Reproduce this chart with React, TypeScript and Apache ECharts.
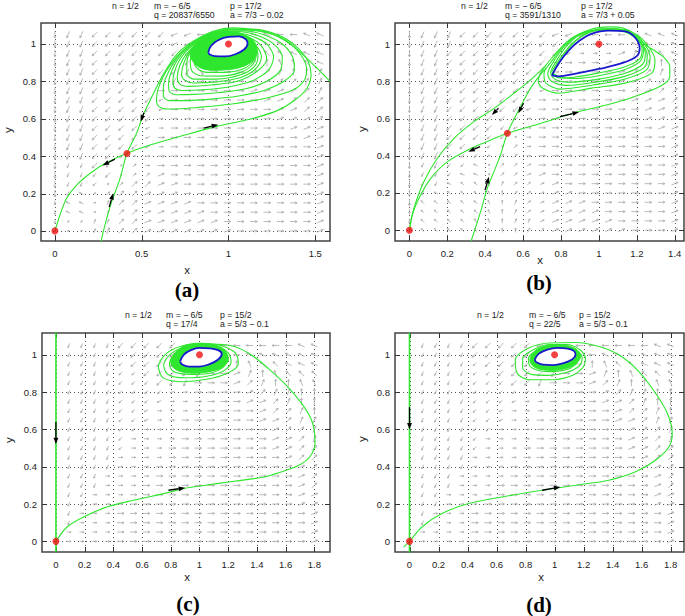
import React, { useEffect, useRef } from "react";
import * as echarts from "echarts";

// ---------------- tick values ----------------
const xTicksA = [0, 0.5, 1, 1.5];
const xTicksB = [0, 0.2, 0.4, 0.6, 0.8, 1, 1.2, 1.4];
const xTicksC = [0, 0.2, 0.4, 0.6, 0.8, 1, 1.2, 1.4, 1.6, 1.8];
const xTicksD = [0, 0.2, 0.4, 0.6, 0.8, 1, 1.2, 1.4, 1.6, 1.8];
const yTicks = [0, 0.2, 0.4, 0.6, 0.8, 1];

// ---------------- direction field (read per row, top row y=1.05 down to y=0) ----------------
// letter = direction (E right, N up, W left, S down, ...), lowercase = short arrow, '.' = tiny
const fieldRowsA = [
  "SAAZZZZZZBBWWWWCCWWCC",
  "SAAZZZZZZBBw.wWCCCCCW",
  "SAAZZZZZZZZbeeNYQQCCC",
  "SAAZZZZZZZZZEEFTNYYQC",
  "SAAZZZZZZZAXEEEFRTNNT",
  "SAAZZZZZZAGEEEEFFRRTT",
  "SAAZZZZZEEEEEEEFFFRRT",
  "SAAZZZZZbEEEEEEEFFRRR",
  "SAAZZZZZbEEEEEEEEFFRR",
  "SAAZZZZZeEEEEEEEEFFFR",
  "SAAZZZZbeEEEEEEEEEFFF",
  "SAAZZZZbEEEEEEEEEEEFF",
  "SAAZZZZbeEEEEEEEEEEEF",
  "SAAZZz.eEEEEEEEEEEEEF",
  "SaaZz.reEEEEEEEEEEEEF",
  "SaazZ.rrFEEEEEEEEEEEF",
  "Saaz.rRRFFEEEEEEEEEEF",
  "Sac.rRRFFFEEEEEEEEEEF",
  "scc.tRRFFFFEEEEEEEEEF",
  "scc.tRRFFFFFEEEEEEEEF",
  "s..ttRRFFFFFFEEEEEEEF",
  "...tTRRFFFFFFFEEEEEEF",
];
const fieldRowsB = [
  "SAAAZZZZZZZBBBWWWWCCC",
  "SAAAZZZZZZZZBbwwwCCCC",
  "SAAZZZZZZZZZbeeeFTTQC",
  "SAAZZZZZZZZeEEEFFRTNY",
  "SAAZZZZZZZZEEEEFFRRTN",
  "SAAZZZZZZZbEEEEEFFRRT",
  "SAAZZZZZZZbEEEEEEFFRR",
  "SAAZZZZZZbEEEEEEEFFFR",
  "SAAZZZZZZbEEEEEEEEFFR",
  "SAAZZZZZbeEEEEEEEEFFF",
  "SAAZZZZzbeEEEEEEEEEFF",
  "SAAZZZzz.eEEEEEEEEEEF",
  "SAAZZzz.reEEEEEEEEEEF",
  "SAAzzz.rreEEEEEEEEEEF",
  "SaAzzc.rrfEEEEEEEEEEF",
  "Saazcc.rrfFEEEEEEEEEF",
  "SaacqqytrrfFEEEEEEEEF",
  "SacqqqynrrfFFEEEEEEEF",
  "SqqqqqyntrfFFFEEEEEEF",
  "sqqqqqyntrfFFFFEEEEEF",
  "sqqqqyynttfFFFFFEEEEF",
  ".qqqqyynntrFFFFFFEEEF",
];
const fieldRowsC = [
  "SaaaaZZZZZBBWWWWWWWCC",
  "SaaaaZZZZZZ.wWWCCCCCC",
  "SaaaazZZZZZbeeNYQQCCC",
  "SaaaazzZZZZAEEFTNYQQQ",
  "SaaaazzzZZAEEEFRTNNYY",
  "SaaaazzzzbeEEEEFRTTNN",
  "SaaaazzzbeeEEEEFFRTNN",
  "SaaaazzbeeeEEEEEFRRTN",
  "SaaaazzbeeEEEEEEFFRTT",
  "SaaaazzeeeEEEEEEEFRRT",
  "SaaaazeeeeEEEEEEEFFRT",
  "SaaaazeeeEEEEEEEEFFRR",
  "SaaaaeeeeEEEEEEEEEFRR",
  "SaaaaeeeEEEEEEEEEEFFR",
  "SaaaeeeeEEEEEEEEEEEFR",
  "SaaaeeeEEEEEEEEEEEEFR",
  "SaaeeeEEEEEEEEEEEEEFF",
  "SaaeeeEEEEEEEEEEEEEFF",
  "SaeeeEEEEEEEEEEEEEEEF",
  "SaeeeEEEEEEEEEEEEEEEF",
  "seeeeEEEEEEEEEEEEEEEF",
  ".eeeeEEEEEEEEEEEEEEEF",
];
const fieldRowsD = [
  "SaaaaZZZZZBBWWWWWWWCC",
  "SaaaaZZZZZZ.wWWCCCCCC",
  "SaaaazZZZZZbeeNYQQCCC",
  "SaaaazzZZZZAEEFTNYQQQ",
  "SaaaazzzZZAEEEFRTNNYY",
  "SaaaazzzzbeEEEEFRTTNN",
  "SaaaazzzbeeEEEEFFRTNN",
  "SaaaazzbeeeEEEEEFRRTN",
  "SaaaazzbeeEEEEEEFFRTT",
  "SaaaazzeeeEEEEEEEFRRT",
  "SaaaazeeeeEEEEEEEFFRT",
  "SaaaazeeeEEEEEEEEFFRR",
  "SaaaaeeeeEEEEEEEEEFRR",
  "SaaaaeeeEEEEEEEEEEFFR",
  "SaaaeeeeEEEEEEEEEEEFR",
  "SaaaeeeEEEEEEEEEEEEFR",
  "SaaeeeEEEEEEEEEEEEEFF",
  "SaaeeeEEEEEEEEEEEEEFF",
  "SaeeeEEEEEEEEEEEEEEEF",
  "SaeeeEEEEEEEEEEEEEEEF",
  "seeeeEEEEEEEEEEEEEEEF",
  ".eeeeEEEEEEEEEEEEEEEF",
];
const fieldStepA = 0.0764;
const fieldStepB = 0.07;
const fieldStepC = 0.09;
const fieldStepD = 0.09;

// ---------------- panel (a) ----------------
const eqA = [[0, 0], [1, 1], [0.415, 0.414]];
const stableA = [[1.585, 0.8], [1.489, 0.889], [1.373, 0.987], [1.258, 1.05], [1.143, 1.077], [1.028, 1.086], [0.912, 1.068], [0.797, 1.014], [0.701, 0.943], [0.62, 0.83], [0.56, 0.72], [0.509, 0.621], [0.471, 0.523], [0.415, 0.414], [0.375, 0.28], [0.327, 0.155], [0.288, 0.03], [0.265, -0.06]];
const unstA = [[0, 0], [0.029, 0.084], [0.067, 0.173], [0.125, 0.245], [0.202, 0.307], [0.288, 0.36], [0.413, 0.414], [0.548, 0.459], [0.749, 0.513], [0.932, 0.559], [1.134, 0.6], [1.287, 0.646], [1.383, 0.7], [1.451, 0.762], [1.476, 0.834], [1.46, 0.905], [1.402, 0.976], [1.326, 1.03], [1.229, 1.066], [1.12, 1.08], [1.02, 1.08], [0.91, 1.062], [0.8, 1.008], [0.71, 0.94], [0.635, 0.845], [0.595, 0.76], [0.585, 0.7], [0.6, 0.665], [0.65, 0.652], [0.75, 0.655], [0.88, 0.665], [1.03, 0.68], [1.22, 0.711], [1.374, 0.755], [1.44, 0.81], [1.45, 0.87], [1.41, 0.95], [1.33, 1.02], [1.22, 1.06], [1.1, 1.075], [1.0, 1.076]];
const loopA2 = [[1.0, 1.076], [0.9, 1.06], [0.8, 1.01], [0.72, 0.945], [0.66, 0.86], [0.625, 0.77], [0.625, 0.72], [0.66, 0.697], [0.75, 0.697], [0.9, 0.705], [1.05, 0.72], [1.2, 0.75], [1.32, 0.8], [1.38, 0.86], [1.37, 0.93], [1.31, 1.0], [1.2, 1.05], [1.1, 1.07], [1.0, 1.072]];
const loopA3 = [[1.0, 1.072], [0.9, 1.057], [0.81, 1.01], [0.73, 0.945], [0.68, 0.87], [0.655, 0.79], [0.66, 0.745], [0.7, 0.728], [0.8, 0.73], [0.95, 0.74], [1.1, 0.76], [1.22, 0.8], [1.3, 0.86], [1.31, 0.93], [1.26, 1.0], [1.17, 1.045], [1.08, 1.065], [1.0, 1.068]];
const loopA4 = [[1.0, 1.068], [0.9, 1.053], [0.82, 1.01], [0.745, 0.95], [0.7, 0.88], [0.68, 0.8], [0.69, 0.765], [0.73, 0.751], [0.85, 0.755], [1.0, 0.77], [1.13, 0.8], [1.23, 0.86], [1.26, 0.93], [1.22, 1.0], [1.14, 1.04], [1.06, 1.06], [1.0, 1.065]];
const loopA5 = [[1.0, 1.065], [0.9, 1.05], [0.83, 1.01], [0.76, 0.95], [0.72, 0.885], [0.705, 0.82], [0.72, 0.785], [0.77, 0.773], [0.9, 0.78], [1.05, 0.8], [1.16, 0.85], [1.22, 0.92], [1.19, 0.99], [1.12, 1.035], [1.05, 1.055], [1.0, 1.06]];
const loopA6 = [[1.0, 1.06], [0.9, 1.047], [0.84, 1.01], [0.775, 0.955], [0.74, 0.89], [0.73, 0.835], [0.75, 0.805], [0.8, 0.791], [0.93, 0.797], [1.07, 0.82], [1.16, 0.87], [1.19, 0.93], [1.16, 0.99], [1.1, 1.03], [1.04, 1.05], [1.0, 1.055]];
const loopA7 = [[0.79, 0.98], [0.76, 0.9], [0.76, 0.84], [0.8, 0.812], [0.93, 0.812], [1.07, 0.835], [1.15, 0.88], [1.17, 0.94], [1.14, 1.0], [1.08, 1.04]];
const loopA8 = [[0.8, 0.975], [0.78, 0.91], [0.79, 0.855], [0.84, 0.83], [0.95, 0.828], [1.07, 0.848], [1.14, 0.89], [1.16, 0.945], [1.14, 1.0], [1.09, 1.035], [1.0, 1.058]];
const loopA9 = [[0.82, 0.975], [0.8, 0.915], [0.82, 0.87], [0.88, 0.848], [0.98, 0.848], [1.08, 0.865], [1.14, 0.905], [1.15, 0.955], [1.13, 1.0], [1.07, 1.04], [0.98, 1.058], [0.9, 1.045], [0.84, 1.01]];
const denseA = [[0.78, 0.96], [0.8, 0.9], [0.86, 0.865], [0.96, 0.86], [1.07, 0.875], [1.14, 0.91], [1.165, 0.96], [1.15, 1.01], [1.1, 1.045], [1.02, 1.065], [0.93, 1.06], [0.85, 1.03]];
const cycleA = [[0.884, 0.955], [0.9, 0.99], [0.94, 1.02], [1.0, 1.038], [1.06, 1.04], [1.1, 1.025], [1.11, 1.0], [1.09, 0.97], [1.04, 0.945], [0.98, 0.933], [0.92, 0.935], [0.89, 0.945], [0.884, 0.955]];
const arrowsA = [[0.513, 0.632, 0.494, 0.585], [0.859, 0.55, 0.941, 0.568], [0.346, 0.384, 0.275, 0.35], [0.313, 0.127, 0.336, 0.202]];

// ---------------- panel (b) ----------------
const eqB = [[0, 0], [1, 1], [0.517, 0.521]];
const stableB = [[0.72, 0.87], [0.682, 0.824], [0.638, 0.761], [0.577, 0.645], [0.517, 0.521], [0.48, 0.402], [0.445, 0.312], [0.41, 0.222], [0.375, 0.097], [0.325, -0.06]];
const curve1B = [[0, 0], [0.023, 0.115], [0.075, 0.258], [0.146, 0.384], [0.234, 0.492], [0.339, 0.582], [0.445, 0.653], [0.55, 0.734], [0.638, 0.806], [0.69, 0.855], [0.72, 0.885]];
const unstB = [[0, 0], [0.014, 0.079], [0.049, 0.169], [0.111, 0.276], [0.198, 0.366], [0.322, 0.438], [0.427, 0.483], [0.517, 0.521], [0.686, 0.572], [0.876, 0.632], [1.034, 0.671], [1.163, 0.709], [1.321, 0.772], [1.374, 0.826], [1.374, 0.879], [1.338, 0.933], [1.286, 0.969], [1.233, 1.005], [1.198, 1.05], [1.127, 1.086], [1.057, 1.092], [0.951, 1.077], [0.846, 1.023], [0.758, 0.933], [0.7, 0.855], [0.68, 0.8], [0.7, 0.765], [0.786, 0.736], [0.962, 0.763], [1.138, 0.79], [1.279, 0.844], [1.296, 0.915], [1.261, 0.987], [1.2, 1.05], [1.1, 1.082], [1.0, 1.08]];
const loopB2 = [[1.0, 1.08], [0.9, 1.055], [0.82, 1.0], [0.76, 0.92], [0.71, 0.84], [0.72, 0.79], [0.8, 0.758], [0.97, 0.78], [1.13, 0.81], [1.25, 0.86], [1.27, 0.93], [1.24, 1.0], [1.17, 1.06], [1.08, 1.08], [1.0, 1.078]];
const loopB3 = [[1.0, 1.078], [0.9, 1.052], [0.82, 0.99], [0.76, 0.905], [0.73, 0.84], [0.75, 0.8], [0.83, 0.778], [0.98, 0.795], [1.13, 0.825], [1.24, 0.875], [1.255, 0.94], [1.22, 1.01], [1.15, 1.06], [1.07, 1.078], [1.0, 1.076]];
const loopB4 = [[1.0, 1.076], [0.9, 1.05], [0.83, 0.99], [0.77, 0.9], [0.745, 0.845], [0.77, 0.81], [0.85, 0.795], [0.99, 0.81], [1.13, 0.84], [1.23, 0.89], [1.245, 0.95], [1.21, 1.02], [1.14, 1.065], [1.06, 1.078], [1.0, 1.074]];
const loopB5 = [[0.75, 0.85], [0.8, 0.82], [0.88, 0.815], [1.0, 0.83], [1.13, 0.86], [1.22, 0.91], [1.235, 0.97], [1.2, 1.035], [1.13, 1.072], [1.05, 1.082], [0.95, 1.065], [0.86, 1.005], [0.79, 0.915], [0.75, 0.85]];
const loopB6 = [[0.755, 0.84], [0.79, 0.818], [0.87, 0.822], [1.0, 0.845], [1.13, 0.875], [1.215, 0.92], [1.228, 0.97], [1.2, 1.03], [1.14, 1.07], [1.05, 1.08], [0.95, 1.062], [0.86, 1.0], [0.8, 0.915], [0.755, 0.84]];
const cycleB = [[0.752, 0.832], [0.79, 0.9], [0.84, 0.965], [0.9, 1.02], [0.96, 1.055], [1.05, 1.072], [1.14, 1.068], [1.195, 1.03], [1.215, 0.975], [1.2, 0.935], [1.13, 0.9], [1.0, 0.866], [0.87, 0.84], [0.79, 0.826], [0.752, 0.832]];
const arrowsB = [[0.47, 0.655, 0.435, 0.619], [0.602, 0.682, 0.575, 0.628], [0.373, 0.449, 0.311, 0.422], [0.399, 0.215, 0.42, 0.287], [0.795, 0.61, 0.895, 0.635]];

// ---------------- panel (c) ----------------
const eqC = [[0, 0], [1, 1]];
const axisLineC = [[0, -0.06], [0, 1.12]];
const mainC = [[0, 0], [0.077, 0.077], [0.192, 0.131], [0.355, 0.184], [0.54, 0.22], [0.772, 0.26], [0.9, 0.285], [1.004, 0.297], [1.24, 0.322], [1.45, 0.345], [1.56, 0.37], [1.689, 0.407], [1.77, 0.455], [1.805, 0.532], [1.785, 0.64], [1.72, 0.73], [1.6, 0.84], [1.48, 0.926], [1.364, 0.998], [1.248, 1.043], [1.132, 1.057], [1.0, 1.058], [0.912, 1.054], [0.772, 1.009], [0.714, 0.937], [0.749, 0.875], [0.888, 0.856], [1.051, 0.869], [1.19, 0.9], [1.27, 0.95], [1.25, 1.01], [1.15, 1.05], [1.05, 1.06], [0.92, 1.05], [0.8, 1.005], [0.75, 0.945], [0.78, 0.895], [0.9, 0.877], [1.05, 0.885], [1.17, 0.915], [1.22, 0.96], [1.2, 1.01], [1.13, 1.045], [1.03, 1.055], [0.93, 1.045], [0.83, 1.0], [0.79, 0.95], [0.82, 0.91], [0.93, 0.895], [1.06, 0.9], [1.16, 0.93], [1.19, 0.97], [1.16, 1.02], [1.08, 1.048], [0.98, 1.05]];
const denseC = [[0.8, 0.975], [0.82, 0.93], [0.9, 0.905], [1.03, 0.905], [1.15, 0.93], [1.2, 0.97], [1.18, 1.02], [1.12, 1.05], [1.02, 1.062], [0.92, 1.055], [0.85, 1.025]];
const cycleC = [[0.865, 0.965], [0.89, 1.0], [0.94, 1.025], [1.0, 1.037], [1.07, 1.035], [1.13, 1.025], [1.155, 1.005], [1.13, 0.975], [1.07, 0.95], [1.0, 0.937], [0.93, 0.937], [0.88, 0.948], [0.865, 0.965]];
const arrowsC = [[0, 0.64, 0, 0.52], [0.784, 0.274, 0.9, 0.287]];

// ---------------- panel (d) ----------------
const eqD = [[0, 0], [1, 1]];
const axisLineD = [[0, -0.06], [0, 1.12]];
const mainD = [[-0.041, -0.031], [0, 0], [0.085, 0.077], [0.223, 0.149], [0.407, 0.203], [0.637, 0.238], [0.914, 0.274], [1.144, 0.301], [1.374, 0.328], [1.558, 0.373], [1.696, 0.435], [1.789, 0.507], [1.811, 0.579], [1.777, 0.687], [1.696, 0.794], [1.581, 0.91], [1.443, 1.0], [1.305, 1.045], [1.144, 1.066], [0.96, 1.063], [0.822, 1.036], [0.729, 0.973], [0.741, 0.902], [0.822, 0.866], [0.96, 0.866], [1.098, 0.883], [1.19, 0.928], [1.213, 0.982], [1.17, 1.03], [1.08, 1.055], [0.97, 1.055], [0.86, 1.03], [0.78, 0.98], [0.78, 0.93], [0.84, 0.895], [0.96, 0.89], [1.08, 0.905], [1.17, 0.94], [1.19, 0.985], [1.15, 1.025], [1.06, 1.045], [0.96, 1.045], [0.87, 1.02], [0.82, 0.98], [0.83, 0.94], [0.9, 0.915], [1.0, 0.91], [1.1, 0.925], [1.16, 0.96]];
const denseD = [[0.83, 0.975], [0.86, 0.935], [0.95, 0.917], [1.07, 0.925], [1.15, 0.955], [1.18, 0.995], [1.14, 1.035], [1.05, 1.052], [0.95, 1.05], [0.87, 1.025]];
const cycleD = [[0.863, 0.973], [0.89, 1.005], [0.95, 1.028], [1.02, 1.037], [1.09, 1.033], [1.135, 1.02], [1.144, 1.0], [1.12, 0.975], [1.06, 0.955], [0.99, 0.945], [0.92, 0.947], [0.875, 0.96], [0.863, 0.973]];
const arrowsD = [[0, 0.72, 0, 0.6], [0.914, 0.274, 1.04, 0.292]];

// ---------------- texts ----------------
const headerA = ["n = 1/2", "m = − 6/5", "q = 20837/6550", "p = 17/2", "a = 7/3 − 0.02"];
const headerB = ["n = 1/2", "m = − 6/5", "q = 3591/1310", "p = 17/2", "a = 7/3 + 0.05"];
const headerC = ["n = 1/2", "m = − 6/5", "q = 17/4", "p = 15/2", "a = 5/3 − 0.1"];
const headerD = ["n = 1/2", "m = − 6/5", "q = 22/5", "p = 15/2", "a = 5/3 − 0.1"];
const captions = ["(a)", "(b)", "(c)", "(d)"];

// ---------------- styling constants ----------------
const GREEN = "#2ee62e";
const BLUE = "#1a1acc";
const RED = "#f01010";
const FIELD = "#aaaaaa";
const SANS = "Liberation Sans, Arial, sans-serif";
const SERIF = "Liberation Serif, Times New Roman, serif";

const DIR: Record<string, number> = { E: 0, F: 22, R: 45, T: 67, N: 90, Y: 112, Q: 135, C: 157, W: 180, B: 202, Z: 225, A: 247, S: 270, D: 292, X: 315, G: 337 };

function buildField(rows: string[], xStep: number, skipFirstCol: boolean) {
  const out: number[][] = [];
  rows.forEach((row, r) => {
    const y = (rows.length - 1 - r) * 0.05;
    for (let c = skipFirstCol ? 1 : 0; c < row.length; c++) {
      const ch = row[c];
      if (ch === ".") {
        out.push([c * xStep, y, 45, 2.2]);
        continue;
      }
      const up = ch.toUpperCase();
      const ang = DIR[up];
      if (ang === undefined) continue;
      out.push([c * xStep, y, ang, ch === up ? 7 : 4.5]);
    }
  });
  return out;
}

function fieldItem(params: any, api: any) {
  const p = api.coord([api.value(0), api.value(1)]);
  const a = (api.value(2) * Math.PI) / 180;
  const L = api.value(3);
  const dx = Math.cos(a);
  const dy = -Math.sin(a);
  const x1 = p[0] - (dx * L) / 2, y1 = p[1] - (dy * L) / 2;
  const x2 = p[0] + (dx * L) / 2, y2 = p[1] + (dy * L) / 2;
  const back = Math.atan2(-dy, -dx);
  const h = L > 6 ? 2.4 : 1.8;
  const h1 = [x2 + h * Math.cos(back + 0.5), y2 + h * Math.sin(back + 0.5)];
  const h2 = [x2 + h * Math.cos(back - 0.5), y2 + h * Math.sin(back - 0.5)];
  return {
    type: "group",
    children: [
      { type: "line", shape: { x1, y1, x2, y2 }, style: { stroke: FIELD, lineWidth: 0.8 } },
      { type: "polyline", shape: { points: [h1, [x2, y2], h2] }, style: { stroke: FIELD, lineWidth: 0.8, fill: "none" } },
    ],
  };
}

function gridItem(params: any, api: any) {
  const cs = params.coordSys;
  const p = api.coord([api.value(0), api.value(1)]);
  const vertical = api.value(2) === 0;
  const dotted = { stroke: "#555", lineWidth: 1, lineDash: [1, 3] };
  const tick = { stroke: "#333", lineWidth: 1 };
  if (vertical) {
    const x = Math.round(p[0]) + 0.5;
    return {
      type: "group",
      children: [
        { type: "line", shape: { x1: x, y1: cs.y, x2: x, y2: cs.y + cs.height }, style: dotted },
        { type: "line", shape: { x1: x, y1: cs.y + cs.height, x2: x, y2: cs.y + cs.height - 5 }, style: tick },
        { type: "line", shape: { x1: x, y1: cs.y, x2: x, y2: cs.y + 5 }, style: tick },
      ],
    };
  }
  const y = Math.round(p[1]) + 0.5;
  return {
    type: "group",
    children: [
      { type: "line", shape: { x1: cs.x, y1: y, x2: cs.x + cs.width, y2: y }, style: dotted },
      { type: "line", shape: { x1: cs.x, y1: y, x2: cs.x + 5, y2: y }, style: tick },
      { type: "line", shape: { x1: cs.x + cs.width, y1: y, x2: cs.x + cs.width - 5, y2: y }, style: tick },
    ],
  };
}

function arrowItem(params: any, api: any) {
  const p1 = api.coord([api.value(0), api.value(1)]);
  const p2 = api.coord([api.value(2), api.value(3)]);
  const ang = Math.atan2(p2[1] - p1[1], p2[0] - p1[0]);
  const hl = 6.5, hw = 2.4;
  const bx = p2[0] - hl * Math.cos(ang), by = p2[1] - hl * Math.sin(ang);
  const l = [bx + hw * Math.sin(ang), by - hw * Math.cos(ang)];
  const r = [bx - hw * Math.sin(ang), by + hw * Math.cos(ang)];
  return {
    type: "group",
    children: [
      { type: "line", shape: { x1: p1[0], y1: p1[1], x2: bx, y2: by }, style: { stroke: "#000", lineWidth: 1.3 } },
      { type: "polygon", shape: { points: [p2, l, r] }, style: { fill: "#000" } },
    ],
  };
}

function polyRender(pts: number[][], style: any) {
  return (params: any, api: any) => ({
    type: "polygon",
    shape: { points: pts.map((p) => api.coord(p)), smooth: 0.35 },
    style,
  });
}

const fmt = (v: number) => String(Math.round(v * 10) / 10);

export default function App() {
  const ref = useRef<HTMLDivElement>(null);
  useEffect(() => {
    document.body.style.margin = "0";
    const chart = echarts.init(ref.current!, null, { renderer: "svg" });

    const panels = [
      { grid: { left: 41, top: 23, width: 289, height: 218 }, x: [-0.08, 1.585], y: [-0.054, 1.112], xTicks: xTicksA, rows: fieldRowsA, step: fieldStepA, vline: null, curves: [stableA, unstA, loopA2, loopA3, loopA4, loopA5, loopA6, loopA7, loopA8, loopA9], dense: denseA, cycle: cycleA, white: true, eq: eqA, arrows: arrowsA },
      { grid: { left: 395, top: 23, width: 289, height: 218 }, x: [-0.076, 1.449], y: [-0.058, 1.113], xTicks: xTicksB, rows: fieldRowsB, step: fieldStepB, vline: null, curves: [stableB, curve1B, unstB, loopB2, loopB3, loopB4, loopB5, loopB6], dense: null, cycle: cycleB, white: false, eq: eqB, arrows: arrowsB },
      { grid: { left: 42, top: 333, width: 288, height: 219 }, x: [-0.097, 1.909], y: [-0.057, 1.117], xTicks: xTicksC, rows: fieldRowsC, step: fieldStepC, vline: axisLineC, curves: [mainC], dense: denseC, cycle: cycleC, white: true, eq: eqC, arrows: arrowsC },
      { grid: { left: 395, top: 333, width: 289, height: 219 }, x: [-0.1, 1.892], y: [-0.057, 1.117], xTicks: xTicksD, rows: fieldRowsD, step: fieldStepD, vline: axisLineD, curves: [mainD], dense: denseD, cycle: cycleD, white: true, eq: eqD, arrows: arrowsD },
    ];

    const series: any[] = [];
    panels.forEach((pn, i) => {
      const ax = { xAxisIndex: i, yAxisIndex: i };
      series.push({
        type: "custom", ...ax, silent: true, z: 1, clip: true,
        data: [...pn.xTicks.map((v) => [v, 0, 0]), ...yTicks.map((v) => [0, v, 1])],
        encode: { x: 0, y: 1 }, renderItem: gridItem,
      });
      series.push({
        type: "custom", ...ax, silent: true, z: 2, clip: true,
        data: buildField(pn.rows, pn.step, !!pn.vline), encode: { x: 0, y: 1 }, renderItem: fieldItem,
      });
      if (pn.dense) {
        series.push({
          type: "custom", ...ax, silent: true, z: 3, clip: true,
          data: [pn.dense[0]], encode: { x: 0, y: 1 },
          renderItem: polyRender(pn.dense, { fill: GREEN, stroke: GREEN, lineWidth: 1 }),
        });
      }
      if (pn.vline) {
        series.push({
          type: "line", ...ax, data: pn.vline, showSymbol: false, symbol: "none",
          lineStyle: { color: GREEN, width: 1.6 }, silent: true, z: 4.5, clip: true,
        });
      }
      pn.curves.forEach((c) => {
        series.push({
          type: "line", ...ax, data: c, showSymbol: false, symbol: "none", smooth: 0.3,
          lineStyle: { color: GREEN, width: 1.1 }, silent: true, z: 4, clip: true,
        });
      });
      if (pn.white) {
        series.push({
          type: "custom", ...ax, silent: true, z: 5, clip: true,
          data: [pn.cycle[0]], encode: { x: 0, y: 1 },
          renderItem: polyRender(pn.cycle, { fill: "#fff" }),
        });
      }
      series.push({
        type: "line", ...ax, data: pn.cycle, showSymbol: false, symbol: "none", smooth: 0.4,
        lineStyle: { color: BLUE, width: 1.8 }, silent: true, z: 5.5, clip: true,
      });
      series.push({
        type: "custom", ...ax, silent: true, z: 6, clip: false,
        data: pn.arrows, encode: { x: [0, 2], y: [1, 3] }, renderItem: arrowItem,
      });
      series.push({
        type: "scatter", ...ax, data: pn.eq, symbolSize: 7, silent: true, z: 7,
        itemStyle: { color: RED }, clip: false,
      });
    });

    const headerSets = [headerA, headerB, headerC, headerD];
    const headerPos = [
      { x: [112, 154, 154, 230, 230], y: [6, 14.5] },
      { x: [461, 505, 505, 581, 581], y: [6, 14.5] },
      { x: [125, 166, 166, 220, 220], y: [315, 324] },
      { x: [477, 529, 529, 579, 579], y: [315, 324] },
    ];
    const rowOf = [0, 0, 1, 0, 1];
    const graphic: any[] = [];
    headerSets.forEach((h, i) => {
      h.forEach((t, k) => {
        graphic.push({
          type: "text", x: headerPos[i].x[k], y: headerPos[i].y[rowOf[k]], silent: true,
          style: { text: t, fill: "#222", fontSize: 8.7, fontFamily: SANS, align: "left", verticalAlign: "middle", textAlign: "left", textVerticalAlign: "middle" },
        });
      });
    });
    const xLab = [[187, 270], [540, 260], [187, 577], [541, 577]];
    const yLab = [[8, 130], [362, 129], [9, 440], [362, 439]];
    const capPos = [[187, 290], [539, 283], [188, 604], [539, 605]];
    for (let i = 0; i < 4; i++) {
      graphic.push({ type: "text", x: xLab[i][0], y: xLab[i][1], silent: true, style: { text: "x", fill: "#222", fontSize: 11.5, fontFamily: SANS, align: "center", verticalAlign: "middle", textAlign: "center", textVerticalAlign: "middle" } });
      graphic.push({ type: "text", x: yLab[i][0], y: yLab[i][1], rotation: Math.PI / 2, silent: true, style: { text: "y", fill: "#222", fontSize: 11.5, fontFamily: SANS, align: "center", verticalAlign: "middle", textAlign: "center", textVerticalAlign: "middle" } });
      graphic.push({ type: "text", x: capPos[i][0], y: capPos[i][1], silent: true, style: { text: captions[i], fill: "#000", fontSize: 21, fontWeight: "bold", fontFamily: SERIF, align: "center", verticalAlign: "middle", textAlign: "center", textVerticalAlign: "middle" } });
    }

    const option: any = {
      animation: false,
      backgroundColor: "#fff",
      grid: panels.map((p) => ({ ...p.grid, show: true, borderColor: "#444", borderWidth: 1.5, backgroundColor: "transparent", containLabel: false })),
      xAxis: panels.map((p, i) => ({
        type: "value", gridIndex: i, min: p.x[0], max: p.x[1],
        axisLine: { show: false }, splitLine: { show: false },
        axisTick: { show: false },
        axisLabel: { customValues: p.xTicks, formatter: fmt, fontSize: 9.5, color: "#222", fontFamily: SANS, margin: 7 },
      })),
      yAxis: panels.map((p, i) => ({
        type: "value", gridIndex: i, min: p.y[0], max: p.y[1],
        axisLine: { show: false }, splitLine: { show: false },
        axisTick: { show: false },
        axisLabel: { customValues: yTicks, formatter: fmt, fontSize: 9.5, color: "#222", fontFamily: SANS, margin: 5 },
      })),
      series,
      graphic,
    };
    chart.setOption(option);
    return () => chart.dispose();
  }, []);
  return <div ref={ref} style={{ width: 685, height: 616 }} />;
}
